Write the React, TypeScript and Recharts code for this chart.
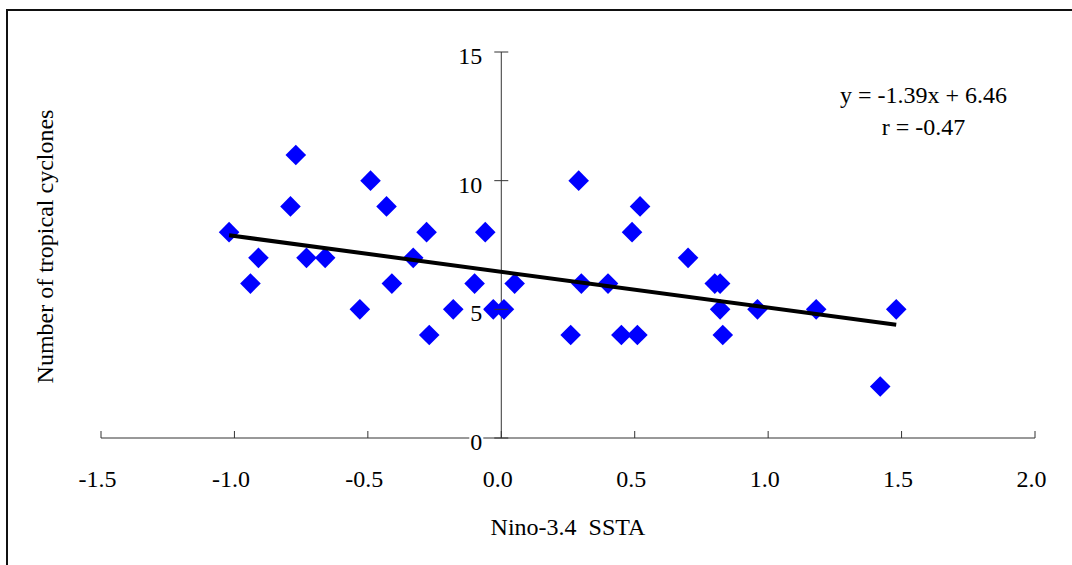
import React from 'react';
import { ScatterChart, Scatter, XAxis, YAxis, ReferenceLine, ReferenceDot } from 'recharts';

// Nino-3.4 SSTA (x) vs number of tropical cyclones (y)
const sstaValues = [
  -1.02, -0.94, -0.91, -0.79, -0.77, -0.73, -0.66, -0.53, -0.49, -0.43, -0.41, -0.33,
  -0.28, -0.27, -0.18, -0.1, -0.06, -0.03, 0.01, 0.05, 0.26, 0.29, 0.3, 0.4, 0.45,
  0.49, 0.51, 0.52, 0.7, 0.8, 0.82, 0.82, 0.83, 0.96, 1.18, 1.42, 1.48,
];
const tcCounts = [
  8, 6, 7, 9, 11, 7, 7, 5, 10, 9, 6, 7,
  8, 4, 5, 6, 8, 5, 5, 6, 4, 10, 6, 6, 4,
  8, 4, 9, 7, 6, 6, 5, 4, 5, 5, 2, 5,
];

const xTicks = [-1.5, -1.0, -0.5, 0.0, 0.5, 1.0, 1.5, 2.0];
const yTicks = [0, 5, 10, 15];

// fitted regression line shown in the chart
const slope = -1.39;
const intercept = 6.46;
const trendRange = [-1.02, 1.48];

const FONT = '"Liberation Serif", "Times New Roman", serif';
const FS = 24;

const points = sstaValues.map((x, i) => ({ x, y: tcCounts[i] }));
const trend = trendRange.map(x => ({ x, y: intercept + slope * x }));

const Diamond = (props: any) => {
  const { cx, cy } = props;
  const r = 10.3;
  return (
    <polygon
      points={`${cx},${cy - r} ${cx + r},${cy} ${cx},${cy + r} ${cx - r},${cy}`}
      fill="#0000FF"
    />
  );
};

const XTick = (props: any) => {
  const { x, y, payload } = props;
  return (
    <g>
      <line x1={x} y1={y} x2={x} y2={y - 7} stroke="#333" strokeWidth={1} />
      <text x={x - 3.5} y={y + 49} textAnchor="middle" fontFamily={FONT} fontSize={FS} fill="#000">
        {payload.value.toFixed(1)}
      </text>
    </g>
  );
};

const yTickShape = (label: string) => (props: any) => {
  const { cx, cy } = props;
  const w = label.length * 12;
  return (
    <g>
      <rect x={cx - 20 - w} y={cy - 5} width={w + 2} height={17} fill="#fff" />
      <line x1={cx - 7} y1={cy} x2={cx + 7} y2={cy} stroke="#333" strokeWidth={1} />
      <text x={cx - 19} y={cy + 12} textAnchor="end" fontFamily={FONT} fontSize={FS} fill="#000">
        {label}
      </text>
    </g>
  );
};

export default function App() {
  return (
    <div style={{ position: 'fixed', left: 0, top: 0, width: 1072, height: 565, overflow: 'hidden', background: '#fff' }}>
      {/* chart frame */}
      <div style={{ position: 'absolute', left: 6, top: 9, width: 1100, height: 600, border: '2px solid #111' }} />

      <div style={{ position: 'absolute', left: 0, top: 0 }}>
        <ScatterChart width={1072} height={565} margin={{ top: 52, right: 37, bottom: 67, left: 101 }}>
          <XAxis
            type="number"
            dataKey="x"
            domain={[-1.5, 2]}
            ticks={xTicks}
            interval={0}
            allowDataOverflow
            height={60}
            stroke="#333"
            tickSize={0}
            tickMargin={0}
            tick={<XTick />}
            label={{
              content: (p: any) => {
                const vb = p.viewBox;
                return (
                  <text
                    x={vb.x + vb.width / 2}
                    y={vb.y + 97}
                    textAnchor="middle"
                    fontFamily={FONT}
                    fontSize={FS}
                    fill="#000"
                    style={{ whiteSpace: 'pre' }}
                  >
                    {'Nino-3.4  SSTA'}
                  </text>
                );
              },
            }}
          />
          <YAxis type="number" dataKey="y" domain={[0, 15]} ticks={yTicks} hide />
          <ReferenceLine x={0} stroke="#333" strokeWidth={1} />
          <Scatter data={points} shape={<Diamond />} isAnimationActive={false} />
          <Scatter
            data={trend}
            line={{ stroke: '#000', strokeWidth: 4 }}
            shape={() => <g />}
            isAnimationActive={false}
          />
          {yTicks.map(v => (
            <ReferenceDot key={v} x={0} y={v} shape={yTickShape(String(v))} />
          ))}
        </ScatterChart>
      </div>

      {/* axis title and regression annotation */}
      <svg width={1072} height={565} style={{ position: 'absolute', left: 0, top: 0, pointerEvents: 'none' }}>
        <text
          transform="translate(53,246.5) rotate(-90)"
          textAnchor="middle"
          fontFamily={FONT}
          fontSize={FS}
          fill="#000"
        >
          Number of tropical cyclones
        </text>
        <text x={923.5} y={103} textAnchor="middle" fontFamily={FONT} fontSize={FS} fill="#000">
          y = -1.39x + 6.46
        </text>
        <text x={923.5} y={135} textAnchor="middle" fontFamily={FONT} fontSize={FS} fill="#000">
          r = -0.47
        </text>
      </svg>
    </div>
  );
}
